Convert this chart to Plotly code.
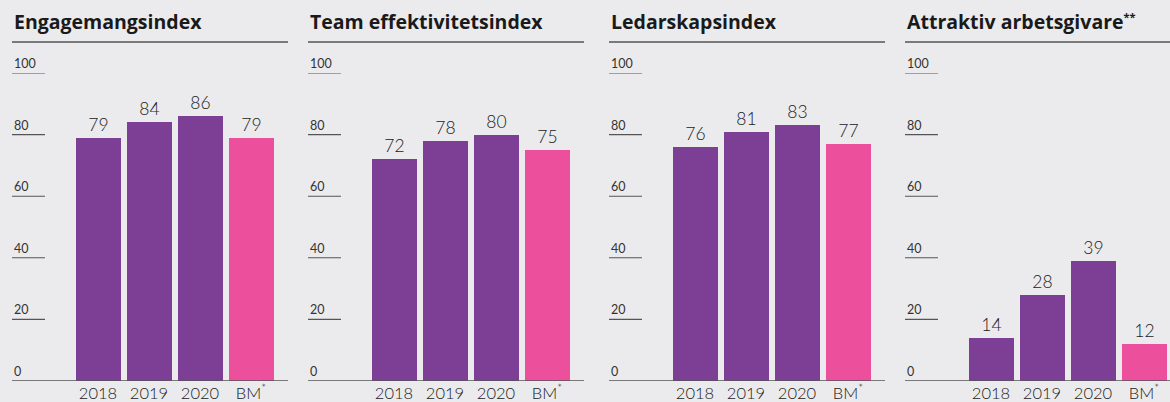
import plotly.graph_objects as go

W, H = 1170, 402

titles = ["Engagemangsindex", "Team effektivitetsindex", "Ledarskapsindex",
          "Attraktiv arbetsgivare<sup><span style='font-size:11px'>**</span></sup>"]
categories = ["2018", "2019", "2020", "BM<sup>*</sup>"]
engagemang = [79, 84, 86, 79]
team = [72, 78, 80, 75]
ledarskap = [76, 81, 83, 77]
attraktiv = [14, 28, 39, 12]
series = [engagemang, team, ledarskap, attraktiv]
y_ticks = [0, 20, 40, 60, 80, 100]

PURPLE = "#7D3F96"
PINK = "#EC4F9C"
BG = "#EBEBED"
colors = [PURPLE, PURPLE, PURPLE, PINK]

panel_left = [12, 308, 609, 905]
panel_w = 276
first_center = 86
step = 51
bar_w = 45

y_bottom_px = 381
y_top_px = 73

FONT = "Lato"
TITLE_FONT = "Open Sans"

fig = go.Figure()
layout = dict(
    width=W, height=H, margin=dict(l=0, r=0, t=0, b=0),
    paper_bgcolor=BG, plot_bgcolor=BG, showlegend=False,
    bargap=0,
)
annotations = []
shapes = []

for i, (L, vals) in enumerate(zip(panel_left, series)):
    R = min(L + panel_w, W)
    n = "" if i == 0 else str(i + 1)
    xa = "x" + n
    ya = "y" + n
    xmin = -first_center / step
    xmax = (R - L - first_center) / step
    fig.add_trace(go.Bar(
        x=list(range(len(categories))), y=vals, xaxis=xa, yaxis=ya,
        width=bar_w / step, marker=dict(color=colors, line=dict(width=0)),
        text=[str(v) for v in vals], textposition="outside",
        textfont=dict(family=FONT, size=17.5, color="#1a1a1a", weight=300),
        cliponaxis=False, hoverinfo="skip",
    ))
    layout["xaxis" + n] = dict(
        domain=[L / W, R / W], range=[xmin, xmax], anchor=ya,
        tickmode="array", tickvals=list(range(len(categories))), ticktext=categories,
        tickfont=dict(family=FONT, size=16.5, color="#1a1a1a", weight=300),
        showgrid=False, zeroline=False, showline=False, ticks="", ticklen=0,
        fixedrange=True,
    )
    layout["yaxis" + n] = dict(
        domain=[(H - y_bottom_px) / H, (H - y_top_px) / H], range=[0, 100],
        anchor=xa, visible=False, fixedrange=True,
    )
    # title
    annotations.append(dict(
        text="<b>" + titles[i] + "</b>", x=L / W, xref="paper", xanchor="left",
        y=(H - 22) / H, yref="paper", yanchor="middle", showarrow=False,
        font=dict(family=TITLE_FONT, size=19.5, color="#1a1a1a"),
    ))
    # title rule
    shapes.append(dict(type="line", xref="paper", yref="paper",
                       x0=L / W, x1=R / W, y0=(H - 42) / H, y1=(H - 42) / H,
                       line=dict(color="#555555", width=1.5)))
    # y ticks
    for t in y_ticks:
        x1 = 1 if t == 0 else 33 / (R - L)
        shapes.append(dict(type="line", xref=xa + " domain", yref=ya,
                           x0=0, x1=x1, y0=t, y1=t,
                           line=dict(color="#555555", width=1.5 if t == 0 else 1.1),
                           layer="above"))
        annotations.append(dict(
            text=str(t), x=0, xref=xa + " domain", xanchor="left",
            y=t, yref=ya, yanchor="bottom", yshift=0, showarrow=False,
            font=dict(family=FONT, size=12.5, color="#333333"),
        ))

layout["annotations"] = annotations
layout["shapes"] = shapes
fig.update_layout(**layout)
fig.write_html("out.html")
